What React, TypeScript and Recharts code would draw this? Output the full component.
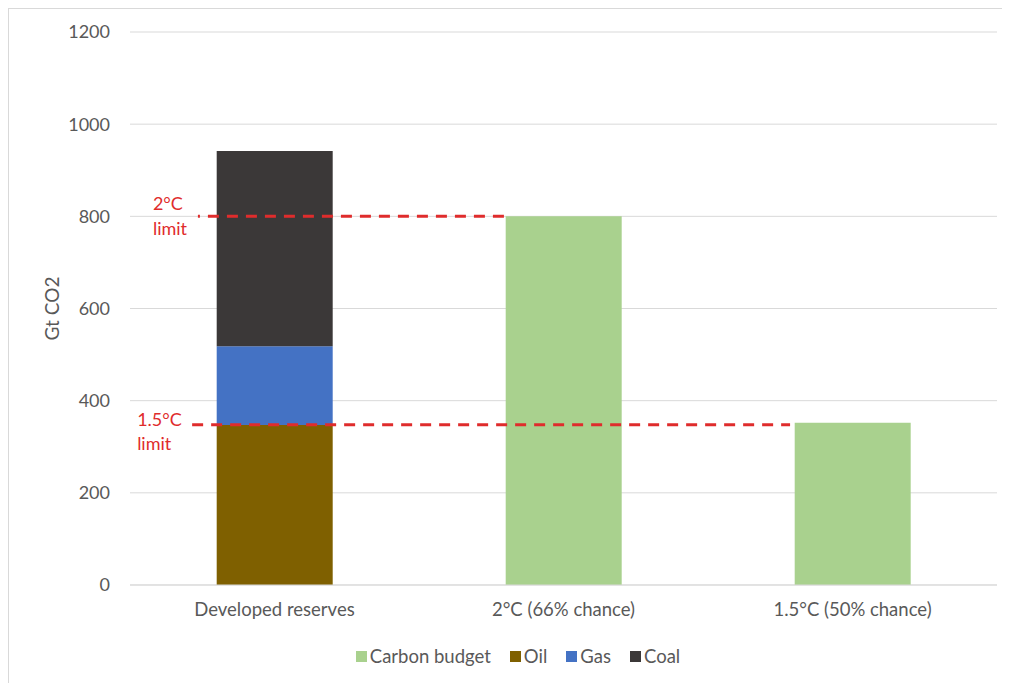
import React from "react";
import {
  BarChart,
  Bar,
  XAxis,
  YAxis,
  CartesianGrid,
  Legend,
  ReferenceLine,
  Label,
} from "recharts";

// ---- data ----
const categories = ["Developed reserves", "2°C (66% chance)", "1.5°C (50% chance)"];
const carbonBudget = [null, 800, 352];
const oil = [347, null, null];
const gas = [171, null, null];
const coal = [424, null, null];
const yTicks = [0, 200, 400, 600, 800, 1000, 1200];

const seriesNames = ["Carbon budget", "Oil", "Gas", "Coal"];

const limitNames = ["2°C", "1.5°C"];
const limitValues = [800, 348];
// extent of each limit line along the category axis (0..3 = category bands)
const limitFrom = [0.235, 0.215];
const limitTo = [1.298, 2.284];

const data = categories.map((c, i) => ({
  name: c,
  "Carbon budget": carbonBudget[i],
  Oil: oil[i],
  Gas: gas[i],
  Coal: coal[i],
}));

// ---- styles ----
const FONT = "Lato, 'Open Sans', sans-serif";
const TEXT = "#595959";
const GRID = "#D9D9D9";
const RED = "#DF2C2C";
const COLORS: Record<string, string> = {
  "Carbon budget": "#A9D18E",
  Oil: "#7F6000",
  Gas: "#4472C4",
  Coal: "#3B3838",
};
const labelOffsets = [
  { dx: -45, dy1: -6, dy2: 19, dash: 9 },
  { dx: -55, dy1: 1.5, dy2: 25.5, dash: 0 },
];

const makeLimitShape = (i: number) => (p: any) => {
  const span = p.x2 - p.x1;
  const xs = p.x1 + (span * limitFrom[i]) / categories.length;
  const xe = p.x1 + (span * limitTo[i]) / categories.length;
  const y = p.y1;
  const tx = xs + labelOffsets[i].dx;
  return (
    <g>
      <line
        x1={xs}
        x2={xe}
        y1={y}
        y2={y}
        stroke={RED}
        strokeWidth={3}
        strokeDasharray="11 8"
        strokeDashoffset={labelOffsets[i].dash}
      />
      <text x={tx} y={y + labelOffsets[i].dy1} fill={RED} fontSize={18} fontFamily={FONT} textAnchor="start">
        {limitNames[i]}
      </text>
      <text x={tx} y={y + labelOffsets[i].dy2} fill={RED} fontSize={18} fontFamily={FONT} textAnchor="start">
        limit
      </text>
    </g>
  );
};

const renderLegend = () => (
  <div
    style={{
      display: "flex",
      justifyContent: "center",
      alignItems: "center",
      paddingLeft: 17,
      fontFamily: FONT,
      fontSize: 18.5,
      color: TEXT,
      lineHeight: "22px",
    }}
  >
    {seriesNames.map((k, i) => (
      <span
        key={k}
        style={{ display: "inline-flex", alignItems: "center", marginLeft: i === 0 ? 0 : 19 }}
      >
        <span style={{ display: "inline-block", width: 11, height: 11, background: COLORS[k], marginRight: 3 }} />
        {k}
      </span>
    ))}
  </div>
);

export default function App() {
  return (
    <div
      style={{
        width: 1002,
        height: 675,
        borderLeft: `1px solid ${GRID}`,
        borderTop: `1px solid ${GRID}`,
        boxSizing: "border-box",
        background: "#fff",
      }}
    >
      <BarChart
        width={1001}
        height={674}
        data={data}
        margin={{ top: 23, right: 13, left: 0, bottom: 38 }}
        barCategoryGap="30%"
      >
        <CartesianGrid horizontal vertical={false} stroke={GRID} strokeWidth={1} />
        <XAxis
          dataKey="name"
          axisLine={{ stroke: GRID }}
          tickLine={false}
          height={60}
          tickMargin={12}
          tick={{ fill: TEXT, fontSize: 18.5, fontFamily: FONT }}
        />
        <YAxis
          width={121}
          domain={[0, 1200]}
          ticks={yTicks}
          axisLine={false}
          tickLine={false}
          tickMargin={14}
          tick={{ fill: TEXT, fontSize: 18, fontFamily: FONT }}
        >
          <Label
            content={(props: any) => {
              const vb = props.viewBox || {};
              const cy = vb.y + vb.height / 2;
              return (
                <text
                  x={42}
                  y={cy}
                  transform={`rotate(-90, 42, ${cy})`}
                  textAnchor="middle"
                  dominantBaseline="central"
                  fill={TEXT}
                  fontSize={19}
                  fontFamily={FONT}
                >
                  Gt CO2
                </text>
              );
            }}
          />
        </YAxis>
        <Legend
          verticalAlign="middle"
          align="center"
          layout="horizontal"
          wrapperStyle={{ top: 636, left: 0, width: 1001 }}
          content={renderLegend}
        />
        <Bar dataKey="Carbon budget" stackId="a" fill={COLORS["Carbon budget"]} isAnimationActive={false} />
        <Bar dataKey="Oil" stackId="a" fill={COLORS.Oil} isAnimationActive={false} />
        <Bar dataKey="Gas" stackId="a" fill={COLORS.Gas} isAnimationActive={false} />
        <Bar dataKey="Coal" stackId="a" fill={COLORS.Coal} isAnimationActive={false} />
        {limitValues.map((v, i) => (
          <ReferenceLine key={i} y={v} stroke={RED} shape={makeLimitShape(i)} />
        ))}
      </BarChart>
    </div>
  );
}
